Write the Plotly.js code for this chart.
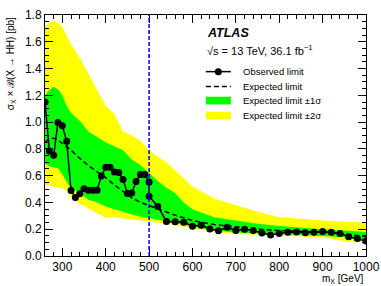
<!DOCTYPE html>
<html>
<head>
<meta charset="utf-8">
<script src="https://cdn.plot.ly/plotly-3.0.1.min.js"></script>
<style>html,body{margin:0;padding:0;background:#fff;}#chart{width:381px;height:286px;}</style>
</head>
<body>
<div id="chart"></div>
<script>
// Observed limit
const obsX = [260,270,280,290,300,310,320,330,340,350,360,370,380,390,400,410,420,430,440,450,460,470,480,490,500,
              500,520,540,560,580,600,620,640,660,680,700,720,740,760,780,800,820,840,860,880,900,920,940,960,980,1000];
const obsY = [1.15,0.785,0.752,0.998,0.973,0.857,0.49,0.437,0.465,0.502,0.492,0.492,0.492,0.598,0.662,0.662,0.628,0.623,0.572,0.466,0.470,0.556,0.608,0.608,0.553,
              0.446,0.370,0.258,0.256,0.252,0.222,0.230,0.202,0.189,0.214,0.190,0.200,0.190,0.172,0.157,0.168,0.177,0.179,0.174,0.177,0.183,0.177,0.168,0.144,0.130,0.112];

// Expected limit and bands
const bandX = [260,270,280,290,300,310,320,340,360,380,400,420,440,460,480,500,520,540,560,580,600,650,700,750,800,850,900,950,1000];
const expY  = [0.85,0.875,0.88,0.865,0.84,0.815,0.79,0.73,0.675,0.63,0.585,0.53,0.48,0.435,0.40,0.375,0.35,0.325,0.305,0.285,0.265,0.235,0.215,0.20,0.19,0.183,0.178,0.165,0.145];
const plus2 = [1.71,1.74,1.755,1.74,1.71,1.64,1.58,1.48,1.36,1.23,1.12,1.06,0.93,0.90,0.86,0.79,0.74,0.70,0.64,0.58,0.52,0.43,0.38,0.33,0.29,0.275,0.265,0.255,0.25];
const plus1 = [1.20,1.24,1.265,1.245,1.20,1.12,1.07,1.01,0.93,0.89,0.85,0.82,0.79,0.72,0.68,0.62,0.56,0.51,0.47,0.40,0.35,0.29,0.265,0.24,0.225,0.21,0.20,0.19,0.18];
const minus1 = [0.69,0.67,0.66,0.655,0.61,0.55,0.51,0.47,0.42,0.40,0.37,0.35,0.33,0.31,0.295,0.28,0.27,0.255,0.245,0.235,0.22,0.19,0.175,0.165,0.16,0.155,0.15,0.14,0.12];
const minus2 = [0.53,0.525,0.52,0.515,0.505,0.49,0.44,0.39,0.36,0.32,0.285,0.29,0.28,0.275,0.27,0.26,0.25,0.24,0.23,0.22,0.21,0.18,0.165,0.155,0.15,0.145,0.14,0.11,0.10];

const splitMass = 500;

const legendLabels = ['Observed limit','Expected limit','Expected limit \u00b11\u03c3','Expected limit \u00b12\u03c3'];
const xTitle = 'm<sub>X</sub> [GeV]';
const yTitle = '\u03c3<sub>X</sub> \u00d7 \u212c(X \u2192 HH) [pb]';

const FONT = 'Liberation Sans, Arial, Helvetica, sans-serif';

const rev = a => a.slice().reverse();

const traces = [
  {x: bandX.concat(rev(bandX)), y: plus2.concat(rev(minus2)), fill:'toself', fillcolor:'#ffff00',
   line:{width:0, color:'#ffff00'}, mode:'lines', hoverinfo:'skip', showlegend:false},
  {x: bandX.concat(rev(bandX)), y: plus1.concat(rev(minus1)), fill:'toself', fillcolor:'#00ff00',
   line:{width:0, color:'#00ff00'}, mode:'lines', hoverinfo:'skip', showlegend:false},
  {x: bandX, y: expY, mode:'lines', line:{color:'#000', width:1.5, dash:'5px,3px'}, showlegend:false},
  {x: obsX, y: obsY, mode:'lines+markers', line:{color:'#000', width:1.5},
   marker:{color:'#000', size:7, symbol:'circle'}, showlegend:false}
];

// manual legend (paper coordinates)
const lx0 = 0.501, lx1 = 0.579, ltx = 0.61;
const rowY = [0.765, 0.703, 0.645, 0.583];
const shapes = [
  {type:'line', xref:'x', yref:'paper', x0:splitMass, x1:splitMass, y0:0, y1:1,
   line:{color:'#0000ff', width:1.5, dash:'4px,2px'}, layer:'above'},
  {type:'line', xref:'paper', yref:'paper', x0:lx0, x1:lx1, y0:rowY[0], y1:rowY[0], line:{color:'#000', width:1.5}},
  {type:'circle', xref:'paper', yref:'paper', xsizemode:'pixel', ysizemode:'pixel',
   xanchor:(lx0+lx1)/2, yanchor:rowY[0], x0:-3.5, x1:3.5, y0:-3.5, y1:3.5, fillcolor:'#000', line:{color:'#000', width:0}},
  {type:'line', xref:'paper', yref:'paper', x0:lx0, x1:lx1, y0:rowY[1], y1:rowY[1], line:{color:'#000', width:1.5, dash:'5px,3px'}},
  {type:'rect', xref:'paper', yref:'paper', x0:lx0, x1:lx1, y0:rowY[2]-0.016, y1:rowY[2]+0.016, fillcolor:'#00ff00', line:{width:0}},
  {type:'rect', xref:'paper', yref:'paper', x0:lx0, x1:lx1, y0:rowY[3]-0.016, y1:rowY[3]+0.016, fillcolor:'#ffff00', line:{width:0}}
];

const annotations = legendLabels.map((t,i) => ({
  text:t, xref:'paper', yref:'paper', x:ltx, y:rowY[i], xanchor:'left', yanchor:'middle',
  showarrow:false, font:{family:FONT, size:9.5, color:'#000'}
}));
annotations.push(
  {text:'<b><i>ATLAS</i></b>', xref:'paper', yref:'paper', x:0.497, y:0.925, xanchor:'left', yanchor:'middle',
   showarrow:false, font:{family:FONT, size:12.5, color:'#000'}},
  {text:'\u221as = 13 TeV, 36.1 fb<sup>\u22121</sup>', xref:'paper', yref:'paper', x:0.497, y:0.853, xanchor:'left', yanchor:'middle',
   showarrow:false, font:{family:FONT, size:11, color:'#000'}},
  {text:xTitle, xref:'paper', yref:'paper', x:1.0, y:-0.095, xanchor:'right', yanchor:'middle',
   showarrow:false, font:{family:FONT, size:10, color:'#000'}},
  {text:yTitle, xref:'paper', yref:'paper', x:-0.107, y:1.0, xanchor:'center', yanchor:'top', textangle:-90,
   showarrow:false, font:{family:FONT, size:10, color:'#000'}}
);

const axisCommon = {
  showline:true, linecolor:'#000', linewidth:1, mirror:'ticks', ticks:'inside', tickcolor:'#000',
  ticklen:8, tickwidth:1, showgrid:false, zeroline:false,
  tickfont:{family:FONT, size:12, color:'#000'}
};

const layout = {
  width:381, height:286,
  margin:{l:45, r:15, t:15, b:30, pad:0},
  paper_bgcolor:'#fff', plot_bgcolor:'#fff',
  showlegend:false,
  xaxis: Object.assign({}, axisCommon, {range:[260,1000], tick0:0, dtick:100,
    minor:{dtick:20, ticklen:4, ticks:'inside', tickcolor:'#000', showgrid:false}}),
  yaxis: Object.assign({}, axisCommon, {range:[0,1.8], tick0:0, dtick:0.2, tickformat:'.1f',
    minor:{dtick:0.05, ticklen:4, ticks:'inside', tickcolor:'#000', showgrid:false}}),
  shapes:shapes,
  annotations:annotations
};

Plotly.newPlot('chart', traces, layout, {staticPlot:true, displayModeBar:false});
</script>
</body>
</html>
